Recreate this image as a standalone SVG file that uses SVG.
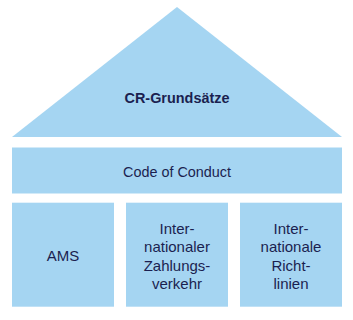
<svg xmlns="http://www.w3.org/2000/svg" width="353" height="320" viewBox="0 0 353 320">
<style>
.f{fill:#a5d5f2}
.t{font-family:"Liberation Sans","Noto Sans",sans-serif;font-size:15px;fill:#1b1f50;text-anchor:middle}
.b{font-weight:bold;font-size:15px}
</style>
<rect width="353" height="320" fill="#ffffff"/>
<g id="roof">
<polygon class="f" points="177,7 342,137 12,137"/>
<text class="t b" x="177" y="102.5" textLength="105" lengthAdjust="spacingAndGlyphs">CR-Grundsätze</text>
</g>
<g id="code">
<rect class="f" x="12" y="147.5" width="330" height="46"/>
<text class="t" x="177" y="176.7" textLength="108" lengthAdjust="spacingAndGlyphs">Code of Conduct</text>
</g>
<g id="ams">
<rect class="f" x="12" y="202.7" width="102" height="104"/>
<text class="t" x="63" y="260.7">AMS</text>
</g>
<g id="zahlung">
<rect class="f" x="126" y="202.7" width="102" height="104"/>
<text class="t" x="177" y="233.8">Inter-</text>
<text class="t" x="177" y="252.2">nationaler</text>
<text class="t" x="177" y="270.6">Zahlungs-</text>
<text class="t" x="177" y="288.8">verkehr</text>
</g>
<g id="richtlinien">
<rect class="f" x="240" y="202.7" width="102" height="104"/>
<text class="t" x="291" y="233.8">Inter-</text>
<text class="t" x="291" y="252.2">nationale</text>
<text class="t" x="291" y="270.6">Richt-</text>
<text class="t" x="291" y="288.8">linien</text>
</g>
<g id="connectors"></g>
</svg>
